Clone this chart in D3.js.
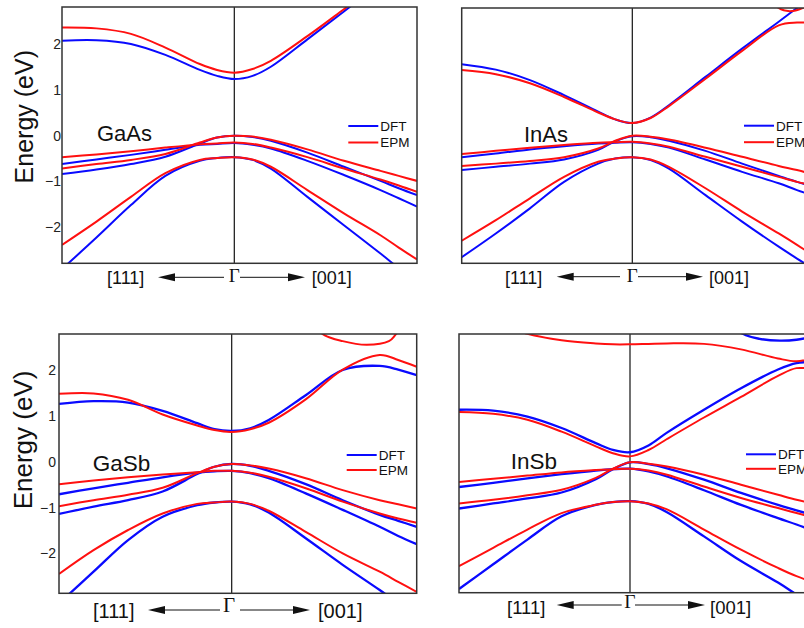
<!DOCTYPE html>
<html>
<head>
<meta charset="utf-8">
<script src="https://cdn.jsdelivr.net/npm/d3@7"></script>
<style>
  body { margin: 0; background: #fff; }
  svg { display: block; }
</style>
</head>
<body>
<svg id="chart" width="804" height="628"></svg>
<script>
// ----------------------------
// Data (energies in eV)
// ----------------------------
// k path: -1 = [111] edge, 0 = Gamma, +1 = [001] edge
const kGrid = [-1, -0.8, -0.6, -0.4, -0.2, -0.1, 0, 0.1, 0.2, 0.4, 0.6, 0.8, 0.9, 1];
const tickValues = [-2, -1, 0, 1, 2];
const methods = ["DFT", "EPM"];
const materials = ["GaAs", "InAs", "GaSb", "InSb"];

// GaAs
const gaasCbDft  = [2.08, 2.09, 2.01, 1.77, 1.44, 1.31, 1.24, 1.31, 1.51, 2.11, 2.72, 3.34, 3.63, 3.92];
const gaasCbEpm  = [2.37, 2.35, 2.23, 1.93, 1.57, 1.44, 1.38, 1.46, 1.64, 2.18, 2.77, 3.37, 3.66, 3.96];
const gaasVb1Dft = [-0.84, -0.74, -0.62, -0.46, -0.17, -0.04, 0, -0.03, -0.11, -0.37, -0.68, -0.99, -1.15, -1.30];
const gaasVb1Epm = [-0.72, -0.62, -0.53, -0.40, -0.15, -0.04, 0, -0.02, -0.09, -0.30, -0.55, -0.77, -0.88, -0.99];
const gaasVb2Dft = [-0.62, -0.52, -0.42, -0.31, -0.20, -0.18, -0.16, -0.20, -0.28, -0.55, -0.86, -1.19, -1.37, -1.55];
const gaasVb2Epm = [-0.47, -0.41, -0.34, -0.26, -0.19, -0.17, -0.15, -0.18, -0.26, -0.47, -0.72, -0.96, -1.09, -1.23];
const gaasVb3Dft = [-2.92, -2.23, -1.52, -0.88, -0.55, -0.49, -0.47, -0.53, -0.72, -1.34, -1.96, -2.58, -2.90, -3.21];
const gaasVb3Epm = [-2.39, -1.88, -1.34, -0.82, -0.53, -0.49, -0.47, -0.52, -0.68, -1.19, -1.70, -2.18, -2.45, -2.71];

// InAs
const inasCbDft  = [1.57, 1.45, 1.22, 0.89, 0.53, 0.36, 0.28, 0.40, 0.67, 1.29, 1.91, 2.50, 2.80, 3.09];
const inasCbEpm  = [1.44, 1.35, 1.15, 0.85, 0.51, 0.36, 0.28, 0.39, 0.65, 1.25, 1.86, 2.42, 2.48, 2.47];
const inasUpEpmK = [0.72, 0.8, 0.86, 0.93, 1];
const inasUpEpm  = [3.2, 2.80, 2.73, 2.80, 2.98];
const inasVb1Dft = [-0.75, -0.68, -0.61, -0.52, -0.31, -0.12, -0.01, -0.03, -0.11, -0.33, -0.61, -0.88, -1.01, -1.12];
const inasVb1Epm = [-0.66, -0.61, -0.55, -0.47, -0.28, -0.11, 0, -0.02, -0.08, -0.26, -0.46, -0.66, -0.75, -0.86];
const inasVb2Dft = [-0.47, -0.39, -0.30, -0.23, -0.17, -0.15, -0.14, -0.18, -0.26, -0.52, -0.79, -1.04, -1.19, -1.32];
const inasVb2Epm = [-0.40, -0.33, -0.26, -0.20, -0.15, -0.14, -0.13, -0.17, -0.24, -0.46, -0.68, -0.90, -1.01, -1.10];
const inasVb3Dft = [-2.66, -2.14, -1.59, -1.01, -0.61, -0.50, -0.47, -0.53, -0.72, -1.30, -1.88, -2.43, -2.69, -2.94];
const inasVb3Epm = [-2.30, -1.85, -1.37, -0.90, -0.57, -0.50, -0.47, -0.52, -0.68, -1.15, -1.66, -2.14, -2.39, -2.65];

// GaSb
const gasbCbDft  = [1.26, 1.32, 1.29, 1.11, 0.84, 0.71, 0.67, 0.73, 0.91, 1.45, 2.00, 2.09, 2.01, 1.89];
const gasbCbEpm  = [1.48, 1.49, 1.35, 1.03, 0.79, 0.69, 0.65, 0.71, 0.85, 1.36, 2.01, 2.33, 2.22, 2.07];
const gasbUpEpmK = [0.42, 0.49, 0.6, 0.73, 0.85, 0.89, 0.96];
const gasbUpEpm  = [3.15, 2.79, 2.63, 2.55, 2.63, 2.79, 3.1];
const gasbVb1Dft = [-1.14, -0.98, -0.84, -0.65, -0.27, -0.11, -0.05, -0.09, -0.20, -0.49, -0.84, -1.16, -1.29, -1.42];
const gasbVb1Epm = [-0.97, -0.84, -0.72, -0.57, -0.25, -0.11, -0.05, -0.08, -0.15, -0.36, -0.62, -0.84, -0.93, -1.02];
const gasbVb2Dft = [-0.71, -0.58, -0.46, -0.34, -0.24, -0.21, -0.20, -0.25, -0.36, -0.69, -1.05, -1.42, -1.62, -1.80];
const gasbVb2Epm = [-0.49, -0.41, -0.34, -0.28, -0.23, -0.20, -0.20, -0.24, -0.33, -0.58, -0.87, -1.13, -1.24, -1.33];
const gasbVb3Dft = [-3.09, -2.40, -1.71, -1.20, -0.95, -0.89, -0.87, -0.93, -1.11, -1.67, -2.25, -2.80, -3.09, -3.38];
const gasbVb3Epm = [-2.45, -1.93, -1.49, -1.13, -0.92, -0.89, -0.87, -0.92, -1.07, -1.53, -2.00, -2.40, -2.62, -2.84];

// InSb
const insbCbDft  = [1.13, 1.11, 0.98, 0.73, 0.40, 0.25, 0.20, 0.35, 0.63, 1.13, 1.60, 2.01, 2.15, 2.17];
const insbCbEpm  = [1.08, 1.04, 0.91, 0.65, 0.33, 0.18, 0.11, 0.25, 0.49, 0.96, 1.41, 1.87, 2.04, 2.00];
const insbUpDftK = [0.5, 0.61, 0.7, 0.81, 0.9, 1];
const insbUpDft  = [3.15, 2.79, 2.68, 2.64, 2.66, 2.74];
const insbUpEpm  = [3.4, 3.05, 2.79, 2.65, 2.58, 2.56, 2.56, 2.57, 2.58, 2.57, 2.45, 2.25, 2.19, 2.27];
const insbVb1Dft = [-1.03, -0.92, -0.81, -0.68, -0.39, -0.17, -0.02, -0.06, -0.15, -0.40, -0.69, -0.95, -1.07, -1.19];
const insbVb1Epm = [-0.92, -0.84, -0.74, -0.62, -0.36, -0.16, -0.02, -0.05, -0.11, -0.29, -0.51, -0.73, -0.84, -0.92];
const insbVb2Dft = [-0.56, -0.47, -0.37, -0.28, -0.20, -0.17, -0.16, -0.22, -0.33, -0.63, -0.95, -1.24, -1.38, -1.53];
const insbVb2Epm = [-0.45, -0.38, -0.31, -0.24, -0.19, -0.17, -0.16, -0.20, -0.29, -0.55, -0.80, -1.02, -1.13, -1.24];
const insbVb3Dft = [-2.79, -2.25, -1.71, -1.20, -0.95, -0.89, -0.87, -0.93, -1.11, -1.64, -2.18, -2.65, -2.91, -3.16];
const insbVb3Epm = [-2.29, -1.89, -1.49, -1.13, -0.95, -0.89, -0.87, -0.92, -1.05, -1.49, -1.93, -2.33, -2.51, -2.65];

const colors = { DFT: "#0a0aff", EPM: "#ff1010" };
const FONT = "'Liberation Sans', Arial, Helvetica, sans-serif";

// ----------------------------
// Panel layout
// ----------------------------
const panels = [
  { name: materials[0], left: 62, gamma: 234.3, right: 417, top: 7, bottom: 263.3, eTop: 2.818, eBot: -2.794,
    ticks: true, tickPad: 1, yLab: { x: 33, y: 116.7, fs: 25 },
    nameX: 97, nameY: 141, nameFs: 22, legX: 348.3, legY: 126, legGap: 16.5,
    xl: { base: 284, fs: 18, a: 107, b: 311.7, g: 234.3, gBase: 281.5, ay: 277.3, l1: 158, l2: 224, r1: 240, r2: 305 },
    bands: [
      { e: gaasCbDft, m: "DFT" }, { e: gaasVb1Dft, m: "DFT" }, { e: gaasVb2Dft, m: "DFT" }, { e: gaasVb3Dft, m: "DFT" },
      { e: gaasCbEpm, m: "EPM" }, { e: gaasVb1Epm, m: "EPM" }, { e: gaasVb2Epm, m: "EPM" }, { e: gaasVb3Epm, m: "EPM" }
    ] },
  { name: materials[1], left: 461.7, gamma: 632.3, right: 815.3, top: 8, bottom: 263.3, eTop: 2.80, eBot: -2.794,
    ticks: false, nameX: 524, nameY: 141.5, nameFs: 22, legX: 744, legY: 125.7, legGap: 16.5,
    xl: { base: 283.5, fs: 18, a: 505, b: 709, g: 632.3, gBase: 281.5, ay: 276.7, l1: 556.7, l2: 620, r1: 638, r2: 703 },
    bands: [
      { e: inasCbDft, m: "DFT" }, { e: inasVb1Dft, m: "DFT" }, { e: inasVb2Dft, m: "DFT" }, { e: inasVb3Dft, m: "DFT" },
      { e: inasCbEpm, m: "EPM" }, { e: inasUpEpm, k: inasUpEpmK, m: "EPM" },
      { e: inasVb1Epm, m: "EPM" }, { e: inasVb2Epm, m: "EPM" }, { e: inasVb3Epm, m: "EPM" }
    ] },
  { name: materials[2], left: 59, gamma: 231.7, right: 416.7, top: 334, bottom: 593.3, eTop: 2.786, eBot: -2.871,
    ticks: true, tickPad: 3, yLab: { x: 32, y: 440, fs: 26 },
    nameX: 92.7, nameY: 471, nameFs: 22.5, legX: 346.7, legY: 455, legGap: 15,
    xl: { base: 618, fs: 20, a: 93, b: 318, g: 229, gBase: 611.5, ay: 610, l1: 148, l2: 220, r1: 240, r2: 310 },
    bands: [
      { e: gasbCbDft, m: "DFT" }, { e: gasbVb1Dft, m: "DFT" }, { e: gasbVb2Dft, m: "DFT" }, { e: gasbVb3Dft, m: "DFT" },
      { e: gasbCbEpm, m: "EPM" }, { e: gasbUpEpm, k: gasbUpEpmK, m: "EPM" },
      { e: gasbVb1Epm, m: "EPM" }, { e: gasbVb2Epm, m: "EPM" }, { e: gasbVb3Epm, m: "EPM" }
    ] },
  { name: materials[3], left: 459, gamma: 630, right: 815, top: 334, bottom: 592.7, eTop: 2.786, eBot: -2.871,
    ticks: false, nameX: 510.7, nameY: 469, nameFs: 22.5, legX: 746, legY: 454.3, legGap: 14.5,
    xl: { base: 614, fs: 18.5, a: 507, b: 710, g: 630, gBase: 608.3, ay: 605, l1: 556.7, l2: 621.7, r1: 635, r2: 705 },
    bands: [
      { e: insbCbDft, m: "DFT" }, { e: insbUpDft, k: insbUpDftK, m: "DFT" },
      { e: insbVb1Dft, m: "DFT" }, { e: insbVb2Dft, m: "DFT" }, { e: insbVb3Dft, m: "DFT" },
      { e: insbCbEpm, m: "EPM" }, { e: insbUpEpm, m: "EPM" },
      { e: insbVb1Epm, m: "EPM" }, { e: insbVb2Epm, m: "EPM" }, { e: insbVb3Epm, m: "EPM" }
    ] }
];

// ----------------------------
// Plotting
// ----------------------------
const svg = d3.select("#chart");
const defs = svg.append("defs");

function drawPanel(p, idx) {
  const xScale = d3.scaleLinear().domain([-1, 0, 1]).range([p.left, p.gamma, p.right]);
  const yScale = d3.scaleLinear().domain([p.eBot, p.eTop]).range([p.bottom, p.top]);
  const g = svg.append("g");

  const clipId = `clip-${idx}`;
  defs.append("clipPath").attr("id", clipId)
    .append("rect")
      .attr("x", p.left).attr("y", p.top)
      .attr("width", p.right - p.left).attr("height", p.bottom - p.top);

  // Gamma line
  g.append("line")
    .attr("x1", xScale(0)).attr("x2", xScale(0))
    .attr("y1", p.top).attr("y2", p.bottom)
    .attr("stroke", "#111").attr("stroke-width", 1.2);

  // bands
  const lineGen = d3.line()
    .defined(d => d[1] != null)
    .x(d => xScale(d[0]))
    .y(d => yScale(d[1]))
    .curve(d3.curveCatmullRom.alpha(0.5));

  const bandG = g.append("g").attr("clip-path", `url(#${clipId})`);
  p.bands.forEach(b => {
    const ks = b.k || kGrid;
    bandG.append("path")
      .datum(ks.map((k, i) => [k, b.e[i]]))
      .attr("fill", "none")
      .attr("stroke", colors[b.m])
      .attr("stroke-width", b.m === "DFT" && idx >= 2 ? 2.3 : 2)
      .attr("stroke-linejoin", "round")
      .attr("d", lineGen);
  });

  // frame
  g.append("rect")
    .attr("x", p.left).attr("y", p.top)
    .attr("width", p.right - p.left).attr("height", p.bottom - p.top)
    .attr("fill", "none").attr("stroke", "#333").attr("stroke-width", 1.5);

  // y ticks
  if (p.ticks) {
    const ax = g.append("g")
      .attr("transform", `translate(${p.left},0)`)
      .call(d3.axisLeft(yScale).tickValues(tickValues).tickFormat(d3.format("d")).tickSize(0).tickPadding(p.tickPad));
    ax.select(".domain").remove();
    ax.selectAll("text")
      .attr("font-family", FONT).attr("font-size", 14).attr("fill", "#222");

    g.append("text")
      .attr("transform", `translate(${p.yLab.x},${p.yLab.y}) rotate(-90)`)
      .attr("text-anchor", "middle")
      .attr("font-family", FONT).attr("font-size", p.yLab.fs).attr("fill", "#111")
      .text("Energy (eV)");
  }

  // material label
  g.append("text")
    .attr("x", p.nameX).attr("y", p.nameY)
    .attr("font-family", FONT).attr("font-size", p.nameFs).attr("fill", "#111")
    .text(p.name);

  // legend
  methods.forEach((m, i) => {
    const ly = p.legY + i * p.legGap;
    g.append("line")
      .attr("x1", p.legX).attr("x2", p.legX + 30)
      .attr("y1", ly).attr("y2", ly)
      .attr("stroke", colors[m]).attr("stroke-width", 2);
    g.append("text")
      .attr("x", p.legX + 32).attr("y", ly + 4.8)
      .attr("font-family", FONT).attr("font-size", 13.5).attr("fill", "#111")
      .text(m);
  });

  // x labels: [111] <-- Gamma --> [001]
  const xl = p.xl;
  g.append("text")
    .attr("x", xl.a).attr("y", xl.base)
    .attr("font-family", FONT).attr("font-size", xl.fs).attr("fill", "#111")
    .text("[111]");
  g.append("text")
    .attr("x", xl.b).attr("y", xl.base)
    .attr("font-family", FONT).attr("font-size", xl.fs).attr("fill", "#111")
    .text("[001]");
  g.append("text")
    .attr("x", xl.g).attr("y", xl.gBase)
    .attr("text-anchor", "middle")
    .attr("font-family", "'Liberation Serif', 'DejaVu Serif', serif")
    .attr("font-size", xl.fs + 1).attr("fill", "#111")
    .text("\u0393");

  const head = 17, hw = 4;
  g.append("line")
    .attr("x1", xl.l1 + head - 2).attr("x2", xl.l2)
    .attr("y1", xl.ay).attr("y2", xl.ay)
    .attr("stroke", "#111").attr("stroke-width", 1);
  g.append("path")
    .attr("d", `M${xl.l1},${xl.ay}L${xl.l1 + head},${xl.ay - hw}L${xl.l1 + head},${xl.ay + hw}Z`)
    .attr("fill", "#111");
  g.append("line")
    .attr("x1", xl.r1).attr("x2", xl.r2 - head + 2)
    .attr("y1", xl.ay).attr("y2", xl.ay)
    .attr("stroke", "#111").attr("stroke-width", 1);
  g.append("path")
    .attr("d", `M${xl.r2},${xl.ay}L${xl.r2 - head},${xl.ay - hw}L${xl.r2 - head},${xl.ay + hw}Z`)
    .attr("fill", "#111");
}

panels.forEach(drawPanel);
</script>
</body>
</html>
